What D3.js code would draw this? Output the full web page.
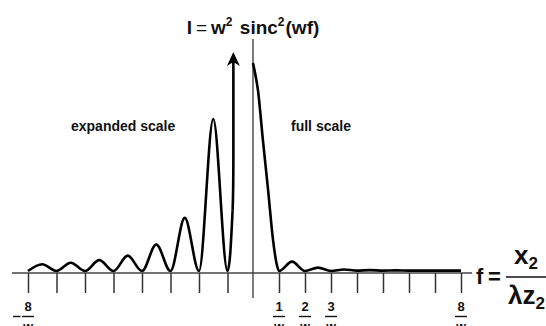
<!DOCTYPE html>
<html>
<head>
<meta charset="utf-8">
<script src="https://cdn.jsdelivr.net/npm/d3@7"></script>
<style>
  html, body { margin: 0; padding: 0; background: #fff; }
  text { font-family: "Liberation Sans", Arial, Helvetica, sans-serif; font-weight: bold; fill: #111; }
</style>
</head>
<body>
<svg id="chart" width="546" height="326"></svg>
<script>
// left half, drawn on the expanded scale (f in units of 1/w)
const leftF = [-8, -7.5, -7, -6.5, -6, -5.5, -5, -4.5, -4, -3.5, -3, -2.5, -2, -1.5, -1, -0.9, -0.8];
const leftI = [0, 0.0021, 0, 0.0026, 0, 0.0034, 0, 0.0048, 0, 0.0083, 0, 0.0166, 0, 0.0475, 0, 0.0047, 0.019];

// right half, full scale
const rightF = [0, 0.05, 0.19, 0.38, 0.58, 0.77, 0.9, 1, 1.5, 2, 2.5, 3, 3.5, 4, 4.5, 5, 5.5, 6, 6.5, 7, 7.5, 8];
const rightI = [1, 0.97, 0.87, 0.63, 0.39, 0.15, 0.04, 0, 0.045, 0, 0.016, 0, 0.007, 0.002, 0.004, 0.002, 0.003, 0.002, 0.002, 0.002, 0.002, 0.002];

const tickValues = [-8, -7, -6, -5, -4, -3, -2, -1, 1, 2, 3, 4, 5, 6, 7, 8];
const labelValues = [-8, 1, 2, 3, 8];
const arrowF = -0.77;

const svg = d3.select('#chart');

const x = d3.scaleLinear().domain([-8, -1, 0, 1, 8]).range([28, 227.5, 253, 279, 461]);
const yFull = d3.scaleLinear().domain([0, 1]).range([271, 63]);
const yExp = d3.scaleLinear().domain([0, 0.065]).range([271, 63]);
const axisY = 273;

// horizontal axis line
svg.append('line')
  .attr('x1', 12).attr('x2', 472)
  .attr('y1', axisY).attr('y2', axisY)
  .attr('stroke', '#444').attr('stroke-width', 1.6);

// ticks (down from the axis)
const axis = d3.axisBottom(x).tickValues(tickValues).tickSize(20).tickFormat('');
const axisG = svg.append('g').attr('transform', `translate(0,${axisY})`).call(axis);
axisG.select('.domain').remove();
axisG.selectAll('.tick line').attr('stroke', '#333').attr('stroke-width', 1.5);

// vertical axis at f = 0
svg.append('line')
  .attr('x1', x(0)).attr('x2', x(0))
  .attr('y1', 39).attr('y2', 298)
  .attr('stroke', '#333').attr('stroke-width', 1.3);

const line = (ys) => d3.line()
  .x(d => x(d[0]))
  .y(d => ys(d[1]))
  .curve(d3.curveMonotoneX);

svg.append('path')
  .datum(leftF.map((f, i) => [f, leftI[i]]))
  .attr('d', line(yExp))
  .attr('fill', 'none').attr('stroke', '#000').attr('stroke-width', 2.6)
  .attr('stroke-linejoin', 'round');

svg.append('path')
  .datum(rightF.map((f, i) => [f, rightI[i]]))
  .attr('d', line(yFull))
  .attr('fill', 'none').attr('stroke', '#000').attr('stroke-width', 2.6)
  .attr('stroke-linejoin', 'round');

// off-scale arrow of the expanded central lobe
const ax = x(arrowF);
const tipY = 52;
svg.append('path')
  .attr('d', `M${x(-0.8)},${yExp(0.019)} Q${ax},${yExp(0.025)} ${ax},${yExp(0.035)} L${ax},${tipY + 8}`)
  .attr('fill', 'none').attr('stroke', '#000').attr('stroke-width', 2.6);
svg.append('path')
  .attr('d', `M${ax},${tipY} L${ax + 6.5},${tipY + 14} L${ax},${tipY + 10} L${ax - 6.5},${tipY + 14} Z`)
  .attr('fill', '#000');

// tick labels as fractions n / w
const lab = svg.append('g').selectAll('g').data(labelValues).join('g')
  .attr('transform', d => `translate(${x(d)},0)`);
lab.append('text')
  .attr('y', 311).attr('text-anchor', 'middle').attr('font-size', 13)
  .text(d => Math.abs(d));
lab.append('line')
  .attr('x1', -6).attr('x2', 6).attr('y1', 316.5).attr('y2', 316.5)
  .attr('stroke', '#111').attr('stroke-width', 1.4);
lab.append('text')
  .attr('y', 331).attr('text-anchor', 'middle').attr('font-size', 12.5)
  .text('w');
lab.filter(d => d < 0).append('line')
  .attr('x1', -15).attr('x2', -7.5).attr('y1', 316.5).attr('y2', 316.5)
  .attr('stroke', '#111').attr('stroke-width', 1.4);

// title
const title = svg.append('text')
  .attr('x', x(0)).attr('y', 34)
  .attr('text-anchor', 'middle').attr('font-size', 19);
title.append('tspan').text('I');
title.append('tspan').attr('font-weight', 'normal').attr('dx', 4).text('=');
title.append('tspan').attr('dx', 4).text('w');
title.append('tspan').attr('font-size', 12).attr('dy', -8).text('2');
title.append('tspan').attr('dy', 8).attr('dx', 2).text(' sinc');
title.append('tspan').attr('font-size', 12).attr('dy', -8).text('2');
title.append('tspan').attr('dy', 8).attr('dx', 1).text('(wf)');

svg.append('text').attr('x', 71).attr('y', 131).attr('font-size', 14).text('expanded scale');
svg.append('text').attr('x', 291).attr('y', 131).attr('font-size', 14).text('full scale');

// horizontal axis label  f = x2 / (lambda z2)
svg.append('text').attr('x', 476).attr('y', 284).attr('font-size', 22).text('f');
svg.append('text').attr('x', 488).attr('y', 284).attr('font-size', 22)
  .attr('font-weight', 'normal').text('=');
const num = svg.append('text').attr('x', 526).attr('y', 264)
  .attr('text-anchor', 'middle').attr('font-size', 26);
num.append('tspan').text('x');
num.append('tspan').attr('font-size', 17).attr('dy', 5).text('2');
svg.append('line').attr('x1', 506).attr('x2', 548).attr('y1', 277).attr('y2', 277)
  .attr('stroke', '#111').attr('stroke-width', 1.6);
const den = svg.append('text').attr('x', 508).attr('y', 304).attr('font-size', 26);
den.append('tspan').text('λz');
den.append('tspan').attr('font-size', 17).attr('dy', 5).text('2');
</script>
</body>
</html>
